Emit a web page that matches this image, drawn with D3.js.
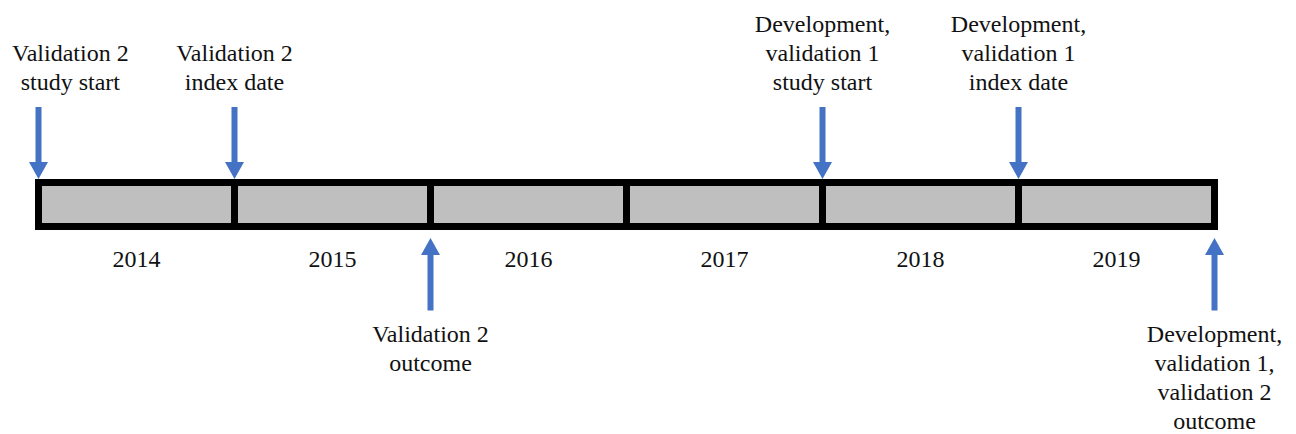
<!DOCTYPE html>
<html>
<head>
<meta charset="utf-8">
<script src="https://cdn.jsdelivr.net/npm/d3@7"></script>
<style>
  html, body { margin: 0; padding: 0; background: #fff; }
  svg { display: block; }
  svg text { font-family: 'Liberation Serif', 'Times New Roman', Times, serif !important; font-size: 24px; fill: #111; }
</style>
</head>
<body>
<svg id="s" width="1296" height="434" font-family="Liberation Serif"></svg>
<script>
// year segments on the bar
const years = [2014, 2015, 2016, 2017, 2018, 2019];

// events: time point (in years) and where the arrow sits
const eventTimes = [2014, 2015, 2016, 2018, 2019, 2020];
const eventSides = ["above", "above", "below", "above", "above", "below"];
const eventLabels = [
  ["Validation 2", "study start"],
  ["Validation 2", "index date"],
  ["Validation 2", "outcome"],
  ["Development,", "validation 1", "study start"],
  ["Development,", "validation 1", "index date"],
  ["Development,", "validation 1,", "validation 2", "outcome"]
];

const width = 1296;
const svg = d3.select("#s");

const x = d3.scaleLinear()
  .domain([d3.min(years), d3.max(years) + 1])
  .range([38.5, 1214.5]);

const barTop = 182.5, barBottom = 226.5;
const stroke = 7;
const blue = "#4472C4";

const shaftW = 6, headW = 19, headH = 17;

function arrowPath(cx, tipY, tailY) {
  const dir = tailY < tipY ? 1 : -1; // 1 = pointing down
  const baseY = tipY - dir * headH;
  return `M${cx - shaftW / 2},${tailY} L${cx + shaftW / 2},${tailY} ` +
    `L${cx + shaftW / 2},${baseY} L${cx + headW / 2},${baseY} L${cx},${tipY} ` +
    `L${cx - headW / 2},${baseY} L${cx - shaftW / 2},${baseY} Z`;
}

// text first, then shapes
function centredText(str, cx, y) {
  const s = svg.append("text")
    .attr("x", cx)
    .attr("y", y)
    .style("font-family", "'Liberation Serif'")
    .style("font-size", "24px")
    .text(str);
  s.datum(s.node().getComputedTextLength());
  s.attr("x", cx - s.datum() / 2);
  return s;
}

// year labels
years.forEach(yr => centredText(yr, (x(yr) + x(yr + 1)) / 2, 267));

// event labels, kept inside the picture
const lineH = 29;
eventTimes.forEach((t, i) => {
  const lines = eventLabels[i];
  const n = lines.length;
  const firstY = eventSides[i] === "above" ? 90 - (n - 1) * lineH : 342;
  const nodes = lines.map((line, j) => centredText(line, x(t), firstY + j * lineH));
  const half = d3.max(nodes, s => s.datum()) / 2;
  let shift = 0;
  if (x(t) - half < 12) shift = 12 - (x(t) - half);
  if (x(t) + half > width - 7) shift = width - 7 - (x(t) + half);
  nodes.forEach(s => s.attr("x", x(t) + shift - s.datum() / 2));
});

// year boxes
svg.selectAll("rect")
  .data(years)
  .enter()
  .append("rect")
  .attr("x", d => x(d))
  .attr("y", barTop)
  .attr("width", d => x(d + 1) - x(d))
  .attr("height", barBottom - barTop)
  .attr("fill", "#BFBFBF")
  .attr("stroke", "#000")
  .attr("stroke-width", stroke);

// arrows
svg.selectAll("path")
  .data(eventTimes)
  .enter()
  .append("path")
  .attr("d", (t, i) => eventSides[i] === "above"
    ? arrowPath(x(t), barTop - stroke / 2, 107)
    : arrowPath(x(t), barBottom + stroke / 2 + 8, 310.5))
  .attr("fill", blue);
</script>
</body>
</html>
